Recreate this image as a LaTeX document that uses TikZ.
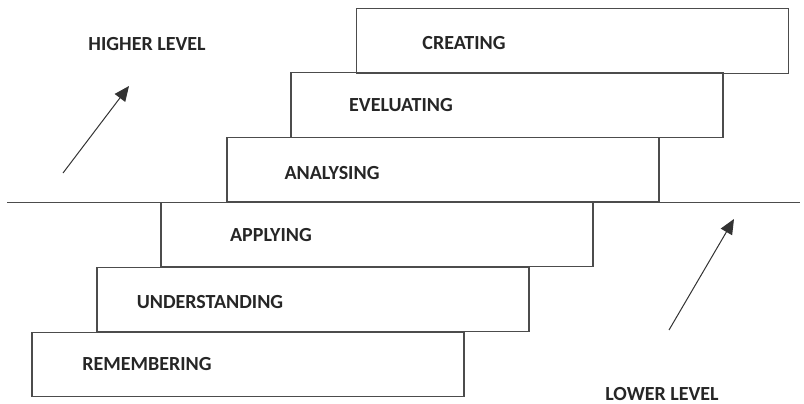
\documentclass[tikz,border=0pt]{standalone}
\usepackage{fontspec}
\setmainfont{Carlito}
\usetikzlibrary{arrows.meta,positioning}

\tikzset{
  stepbox/.style={draw=black!70, line width=1.4pt, minimum width=432pt, minimum height=64.5pt, inner sep=0pt},
  lbl/.style={font=\fontsize{20}{22}\selectfont\bfseries, text=black!85},
  uparrow/.style={draw=black!80, line width=1pt, -{Triangle[length=15pt,width=13pt]}}
}

\begin{document}
\begin{tikzpicture}[x=1pt,y=-1pt]
\useasboundingbox (0,0) rectangle (804,404);
% the steps
\node[stepbox] (cre) at (572.5,41) {};
\node[stepbox] (eva) at (507,105) {};
\node[stepbox] (ana) at (443,169.5) {};
\node[stepbox] (app) at (377,234.5) {};
\node[stepbox] (und) at (313,299.5) {};
\node[stepbox] (rem) at (248,364.5) {};
\node[lbl] (tcre) at (464,43) {CREATING};
\node[lbl] (teva) at (401,105) {EVELUATING};
\node[lbl] (tana) at (332,173) {ANALYSING};
\node[lbl] (tapp) at (271,235) {APPLYING};
\node[lbl] (tund) at (210,302) {UNDERSTANDING};
\node[lbl] (trem) at (147,364) {REMEMBERING};
% dividing line
\coordinate (L) at (7,202.5);
\coordinate (R) at (800,202.5);
\draw[draw=black!70, line width=1.4pt] (L)--(R);
% levels
\node[lbl] (high) at (147,44) {HIGHER LEVEL};
\node[lbl] (low) at (662,394) {LOWER LEVEL};
\coordinate (h1) at (63,173);
\coordinate (h2) at (129,86);
\coordinate (l1) at (669,330);
\coordinate (l2) at (734,219);
\draw[uparrow] (h1)--(h2);
\draw[uparrow] (l1)--(l2);
\end{tikzpicture}
\end{document}
